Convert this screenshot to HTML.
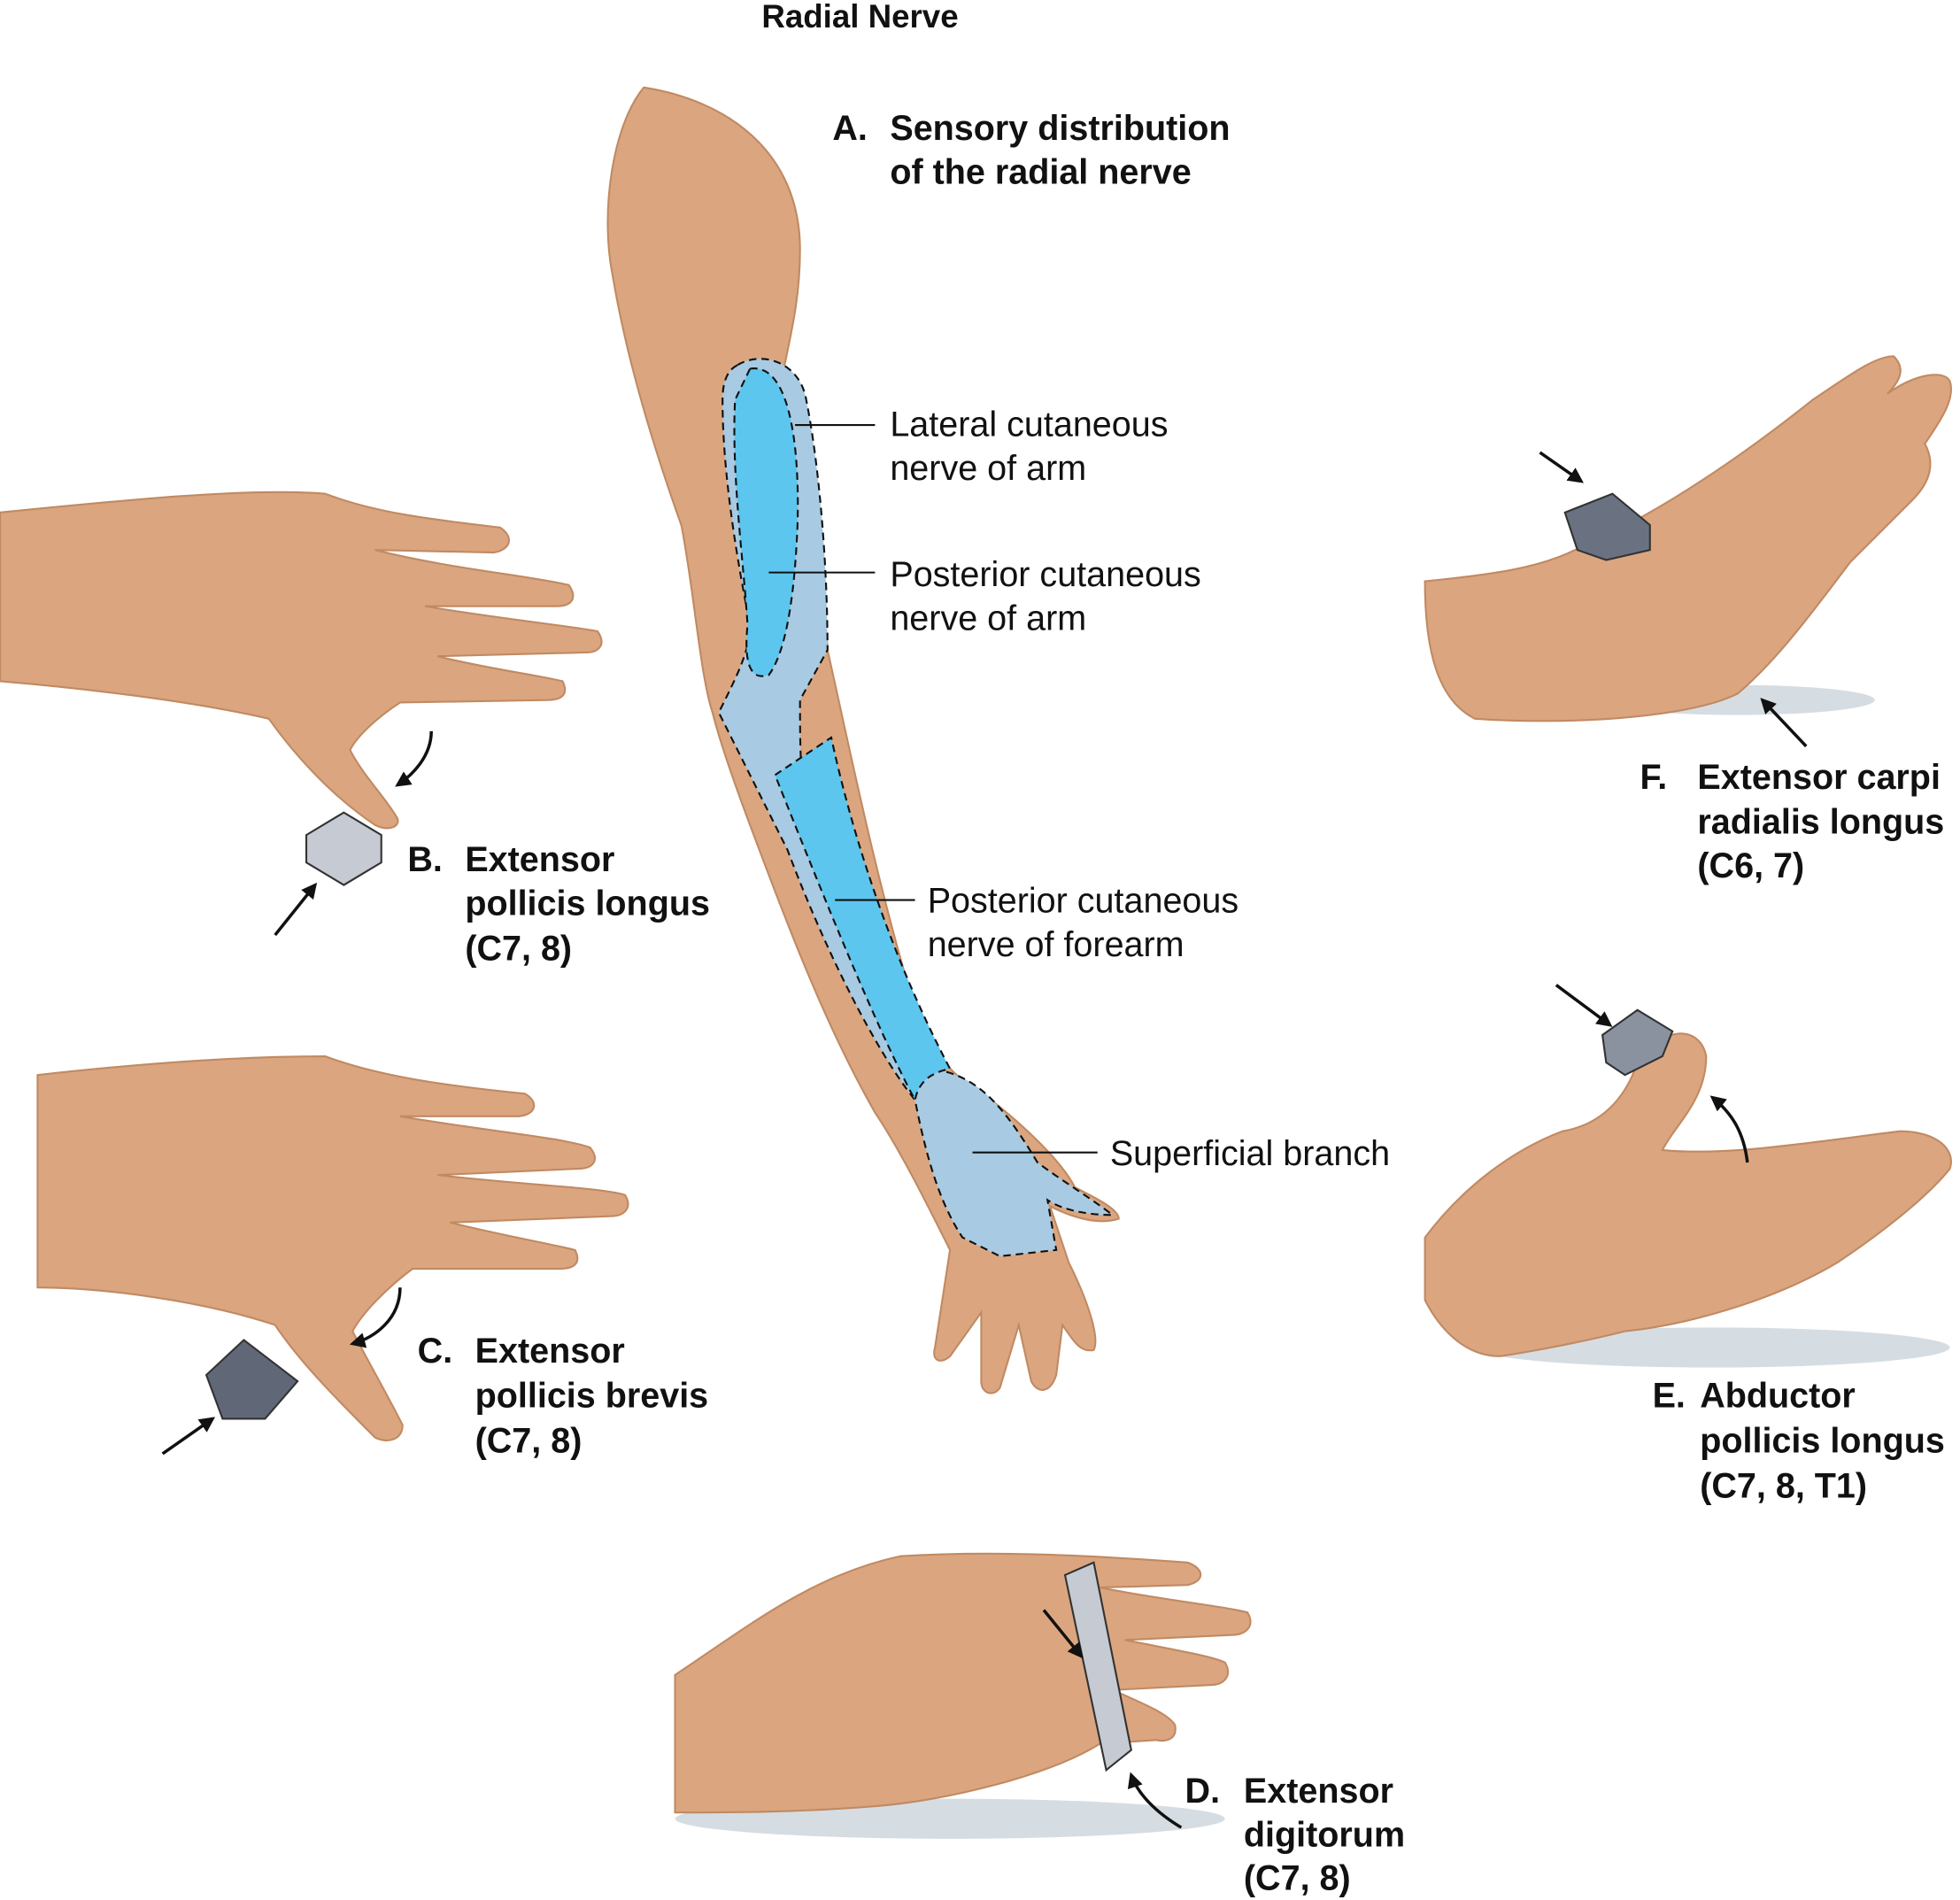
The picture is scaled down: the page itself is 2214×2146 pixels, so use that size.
<!DOCTYPE html>
<html><head><meta charset="utf-8">
<style>
html,body{margin:0;padding:0;background:#fff;}
svg{display:block;}
text{font-family:"Liberation Sans",sans-serif;fill:#111;}
.b{font-weight:bold;font-size:28px;}
.r{font-size:28px;}
</style></head><body>
<svg width="2214" height="2146" viewBox="0 0 1568 1520" xmlns="http://www.w3.org/2000/svg">
<defs>
<marker id="ah" viewBox="0 0 10 10" refX="8" refY="5" markerWidth="5" markerHeight="5" orient="auto"><path d="M0,0 L10,5 L0,10 z" fill="#111"/></marker>
</defs>
<!-- shadows -->
<ellipse cx="1370" cy="1078" rx="190" ry="16" fill="#c5ced5" opacity="0.7"/>
<ellipse cx="1390" cy="560" rx="110" ry="12" fill="#c5ced5" opacity="0.7"/>
<ellipse cx="760" cy="1455" rx="220" ry="16" fill="#c5ced5" opacity="0.7"/>
<g fill="#dba67f" stroke="#c08a63" stroke-width="1.5">
<!-- arm -->
<path d="M515,70 C580,80 640,120 640,200 C640,240 632,270 626,300 C640,360 660,470 662,520 C680,600 700,700 730,800 C745,840 760,860 780,870 C820,900 850,930 860,950 C880,960 895,968 895,975 C880,980 860,975 840,965 L855,1010 C870,1040 880,1070 875,1080 C865,1082 860,1075 850,1060 L845,1100 C840,1115 830,1115 825,1105 L815,1060 L800,1110 C795,1118 785,1115 785,1105 L785,1050 L760,1085 C752,1092 745,1088 748,1078 L760,1000 C740,960 720,920 700,890 C660,820 630,740 600,660 C585,620 575,590 570,570 C560,540 555,470 545,420 C520,350 500,280 490,220 C480,170 490,100 515,70 Z"/>
<!-- hand B -->
<path d="M0,410 C100,400 200,390 260,395 C300,410 340,415 400,422 C412,430 408,440 395,442 L300,440 C360,455 420,460 455,468 C462,478 458,485 445,485 L340,485 C400,495 450,500 478,505 C485,515 480,522 468,522 L350,525 C390,535 430,540 450,545 C455,555 450,560 438,560 L320,562 C300,575 285,590 280,600 C290,620 310,640 318,655 C320,662 310,665 300,660 C270,640 240,610 215,575 C150,560 60,550 0,545 Z"/>
<!-- hand C -->
<path d="M30,860 C120,850 200,845 260,845 C300,860 350,868 420,875 C432,882 428,892 415,893 L320,893 C390,905 450,910 472,918 C480,928 475,935 462,935 L350,940 C420,948 480,950 500,956 C506,966 500,973 488,973 L360,978 C400,988 440,995 460,1000 C465,1010 460,1015 448,1015 L330,1015 C310,1030 290,1050 282,1065 C295,1090 312,1120 322,1140 C322,1152 310,1155 300,1150 C270,1120 240,1090 220,1060 C160,1040 80,1030 30,1030 Z"/>
<!-- hand D -->
<path d="M540,1340 C600,1300 650,1260 720,1245 C800,1240 880,1245 950,1250 C964,1255 964,1265 950,1268 L880,1270 C930,1280 980,1285 998,1290 C1004,1300 998,1308 985,1308 L900,1312 C940,1320 970,1325 980,1330 C986,1340 980,1348 968,1348 L890,1352 C920,1365 935,1372 940,1380 C942,1390 935,1394 925,1392 L880,1395 C840,1420 760,1440 700,1445 C640,1450 580,1450 540,1450 Z"/>
<!-- hand E -->
<path d="M1140,990 C1170,950 1210,920 1250,905 C1280,900 1300,880 1310,850 C1330,820 1360,820 1365,845 C1365,880 1340,900 1330,920 C1380,925 1440,915 1520,905 C1550,905 1565,920 1560,935 C1540,960 1500,990 1470,1010 C1420,1040 1350,1060 1300,1065 C1260,1075 1220,1082 1200,1085 C1170,1085 1150,1060 1140,1040 Z"/>
<!-- hand F -->
<path d="M1140,465 C1190,460 1230,455 1260,440 C1330,410 1400,360 1450,320 C1480,300 1500,285 1515,285 C1525,295 1520,305 1510,315 C1530,300 1555,295 1560,305 C1565,320 1550,340 1540,355 C1548,370 1545,385 1530,400 C1520,410 1500,430 1480,450 C1450,490 1420,530 1390,555 C1350,575 1250,580 1180,575 C1150,560 1140,520 1140,465 Z"/>
</g>
<!-- blue nerve regions -->
<path d="M590,292 C610,280 640,290 645,320 C655,370 662,450 662,520 L640,560 C640,600 640,640 650,660 C690,740 720,800 745,855 C780,860 800,880 830,930 C850,945 875,960 890,972 C870,972 850,968 838,960 L845,1000 L800,1005 C790,1000 780,995 770,990 C750,960 740,920 732,880 C700,840 660,760 630,680 C610,640 595,610 575,570 C590,540 600,520 600,500 C590,450 578,380 578,320 C578,305 582,296 590,292 Z" fill="#a8cbe3" stroke="#111" stroke-width="1.5" stroke-dasharray="6,4"/>
<path d="M600,295 C630,290 640,350 638,420 C636,470 630,520 615,540 C600,545 595,530 598,500 C595,450 585,380 588,320 Z" fill="#5cc6ee" stroke="#111" stroke-width="1.5" stroke-dasharray="6,4"/>
<path d="M620,620 L665,590 C680,660 710,760 760,855 C745,858 735,865 732,880 C700,820 660,720 620,620 Z" fill="#5cc6ee" stroke="#111" stroke-width="1.5" stroke-dasharray="6,4"/>
<!-- blocks -->
<g stroke="#333" stroke-width="1.5">
<path d="M245,668 L275,650 L305,668 L305,690 L275,708 L245,690 Z" fill="#c6cad2"/>
<path d="M165,1100 L195,1072 L238,1105 L212,1135 L178,1135 Z" fill="#606878"/>
<path d="M1252,410 L1290,395 L1320,420 L1320,440 L1285,448 L1262,440 Z" fill="#6a7282"/>
<path d="M1282,828 L1310,808 L1338,825 L1330,845 L1300,860 L1285,850 Z" fill="#8a92a0"/>
<path d="M852,1260 L875,1250 L905,1400 L885,1416 Z" fill="#c6cad2"/>
</g>
<!-- arrows -->
<g stroke="#111" stroke-width="2.5" fill="none" marker-end="url(#ah)">
<line x1="220" y1="748" x2="252" y2="708"/>
<path d="M345,585 C345,605 330,620 318,628"/>
<line x1="130" y1="1163" x2="170" y2="1135"/>
<path d="M320,1030 C320,1055 300,1070 282,1075"/>
<line x1="1232" y1="362" x2="1265" y2="385"/>
<line x1="1445" y1="597" x2="1410" y2="560"/>
<line x1="1245" y1="788" x2="1288" y2="820"/>
<path d="M1398,930 C1395,905 1385,890 1370,878"/>
<line x1="835" y1="1288" x2="865" y2="1325"/>
<path d="M945,1462 C925,1450 910,1435 905,1420"/>
</g>
<!-- leader lines -->
<g stroke="#111" stroke-width="1.5">
<line x1="636" y1="340" x2="700" y2="340"/>
<line x1="615" y1="458" x2="700" y2="458"/>
<line x1="668" y1="720" x2="732" y2="720"/>
<line x1="778" y1="922" x2="878" y2="922"/>
</g>
<text class="b" x="688" y="22" text-anchor="middle" style="font-size:26px">Radial Nerve</text>
<text class="b" x="666" y="112">A.</text><text class="b" x="712" y="112">Sensory distribution</text>
<text class="b" x="712" y="147">of the radial nerve</text>
<text class="r" x="712" y="349">Lateral cutaneous</text><text class="r" x="712" y="384">nerve of arm</text>
<text class="r" x="712" y="469">Posterior cutaneous</text><text class="r" x="712" y="504">nerve of arm</text>
<text class="r" x="742" y="730">Posterior cutaneous</text><text class="r" x="742" y="765">nerve of forearm</text>
<text class="r" x="888" y="932">Superficial branch</text>
<text class="b" x="326" y="697">B.</text><text class="b" x="372" y="697">Extensor</text>
<text class="b" x="372" y="732">pollicis longus</text><text class="b" x="372" y="768">(C7, 8)</text>
<text class="b" x="334" y="1090">C.</text><text class="b" x="380" y="1090">Extensor</text>
<text class="b" x="380" y="1126">pollicis brevis</text><text class="b" x="380" y="1162">(C7, 8)</text>
<text class="b" x="948" y="1442">D.</text><text class="b" x="995" y="1442">Extensor</text>
<text class="b" x="995" y="1477">digitorum</text><text class="b" x="995" y="1512">(C7, 8)</text>
<text class="b" x="1322" y="1126">E.</text><text class="b" x="1360" y="1126">Abductor</text>
<text class="b" x="1360" y="1162">pollicis longus</text><text class="b" x="1360" y="1198">(C7, 8, T1)</text>
<text class="b" x="1312" y="631">F.</text><text class="b" x="1358" y="631">Extensor carpi</text>
<text class="b" x="1358" y="667">radialis longus</text><text class="b" x="1358" y="702">(C6, 7)</text>
</svg>
</body></html>
